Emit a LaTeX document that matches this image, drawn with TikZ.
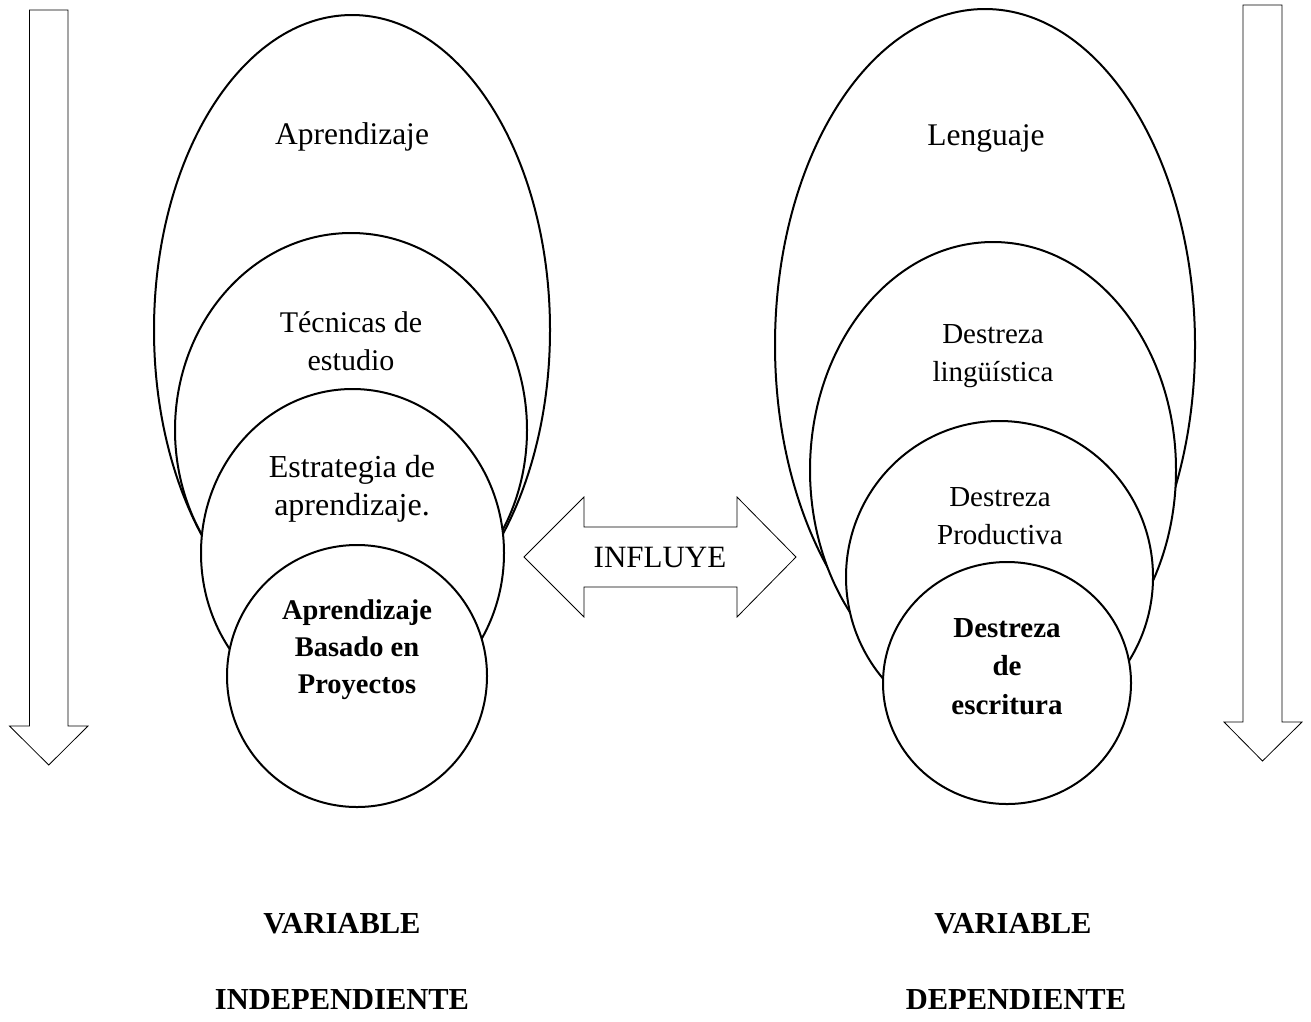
\documentclass[tikz,border=0pt]{standalone}
\usepackage{fontspec}
\setmainfont{Liberation Serif}
\newcommand{\fsz}[2]{\fontsize{#1}{#2}\selectfont}
\begin{document}
\begin{tikzpicture}[x=1pt,y=-1pt,
  oval/.style={draw=black, fill=white, line width=2pt},
  blockarrow/.style={draw=black, fill=white, line width=0.8pt, line join=miter},
  lbl/.style={align=center, inner sep=0pt, text=black},
  varlbl/.style={lbl, font=\fsz{30.5}{37}\bfseries}
]
\useasboundingbox (0,0) rectangle (1311,1021);

% vertical block arrows
\draw[blockarrow] (29.5,10) -- (68,10) -- (68,726) -- (88,726) -- (48.75,765)
  -- (9.5,726) -- (29.5,726) -- cycle;
\draw[blockarrow] (1243,5) -- (1282,5) -- (1282,722) -- (1302,722) -- (1262.5,761)
  -- (1224,722) -- (1243,722) -- cycle;

% double arrow
\draw[blockarrow] (524,557) -- (584,497) -- (584,527) -- (737,527) -- (737,497)
  -- (796,557) -- (737,617) -- (737,587) -- (584,587) -- (584,617) -- cycle;

% left nested ovals
\filldraw[oval] (352,330) ellipse [x radius=198pt, y radius=315pt];
\filldraw[oval] (351,430) ellipse [x radius=176pt, y radius=197pt];
\filldraw[oval] (352.5,553) ellipse [x radius=151.5pt, y radius=164pt];
\filldraw[oval] (357,676) ellipse [x radius=130pt, y radius=131pt];

% right nested ovals
\filldraw[oval] (985,345) ellipse [x radius=210pt, y radius=336pt];
\filldraw[oval] (993,470) ellipse [x radius=183pt, y radius=228pt];
\filldraw[oval] (999.5,577) ellipse [x radius=153.5pt, y radius=156pt];
\filldraw[oval] (1007,683) ellipse [x radius=124pt, y radius=121pt];

% labels
\node[lbl, font=\fsz{31.5}{38}] (apr) at (352,137) {Aprendizaje};
\node[lbl, font=\fsz{30}{38}] (tec) at (351,341) {Técnicas de\\estudio};
\node[lbl, font=\fsz{32}{38}] (est) at (352,489) {Estrategia de\\aprendizaje.};
\node[lbl, font=\fsz{28.5}{37}\bfseries] (abp) at (357,650) {Aprendizaje\\Basado en\\Proyectos};

\node[lbl, font=\fsz{31.5}{38}] (len) at (986,138) {Lenguaje};
\node[lbl, font=\fsz{29}{38}] (lin) at (993,356) {Destreza\\lingüística};
\node[lbl, font=\fsz{29}{38}] (pro) at (1000,516) {Destreza\\Productiva};
\node[lbl, font=\fsz{29}{38.5}\bfseries] (esc) at (1007,666.5) {Destreza\\de\\escritura};

\node[lbl, font=\fsz{31}{38}] (inf) at (660,557) {INFLUYE};

\node[varlbl] (var1) at (342,924) {VARIABLE};
\node[varlbl] (ind) at (342,1000) {INDEPENDIENTE};
\node[varlbl] (var2) at (1013,924) {VARIABLE};
\node[varlbl] (dep) at (1016,1000) {DEPENDIENTE};
\end{tikzpicture}
\end{document}
